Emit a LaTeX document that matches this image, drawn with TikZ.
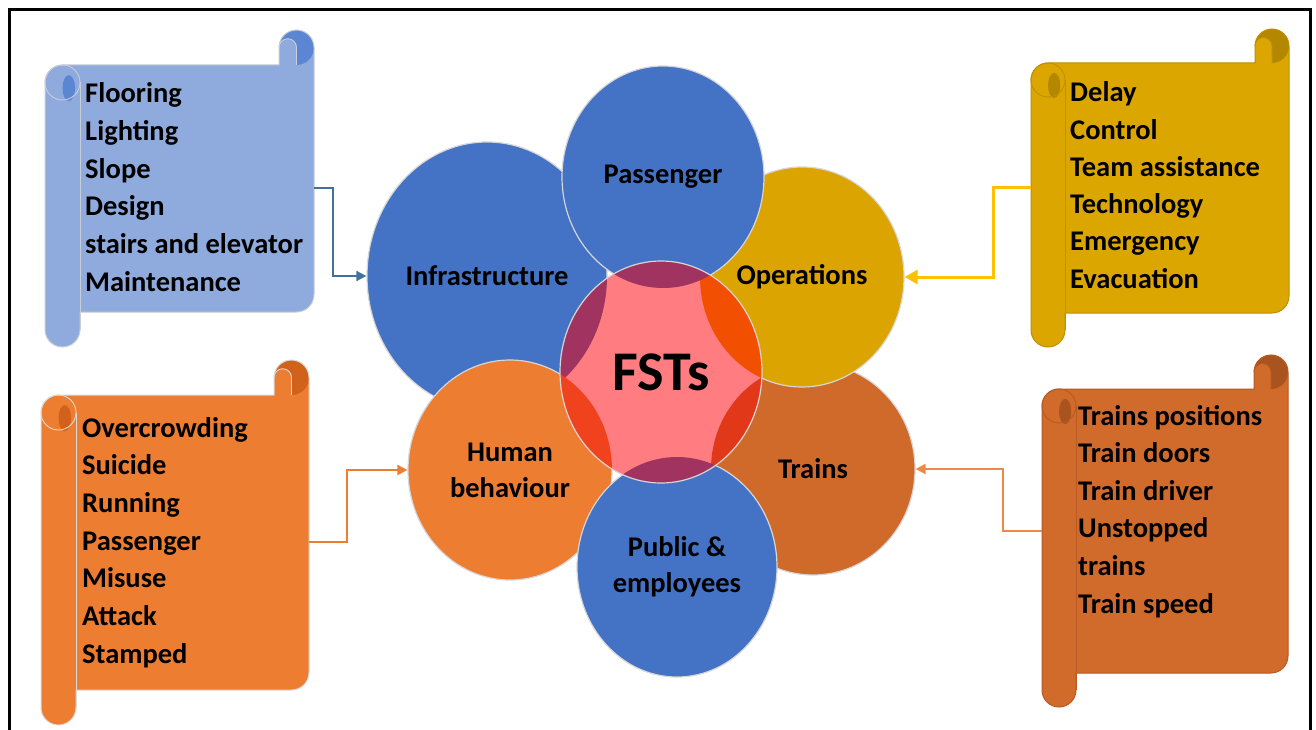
\documentclass[tikz,border=0pt]{standalone}
\usepackage{fontspec}
\setmainfont{Carlito}
\usetikzlibrary{shapes.geometric,arrows.meta,calc}
\definecolor{cblue}{HTML}{4472C4}
\definecolor{cgold}{HTML}{DBA400}
\definecolor{ctrain}{HTML}{CF6A2A}
\definecolor{chuman}{HTML}{ED7D31}
\definecolor{cpink}{HTML}{FF7C80}
\definecolor{circline}{HTML}{D6D6D6}
\definecolor{ovblue}{HTML}{A0335F}
\definecolor{ovgold}{HTML}{F25000}
\definecolor{ovtrain}{HTML}{E2381A}
\definecolor{ovhuman}{HTML}{F1421E}
\definecolor{saL}{HTML}{8FAADC}
\definecolor{saD}{HTML}{5B86D4}
\definecolor{saO}{HTML}{C8CDD6}
\definecolor{sbL}{HTML}{DCA600}
\definecolor{sbD}{HTML}{B38700}
\definecolor{sbO}{HTML}{BF9000}
\definecolor{scL}{HTML}{ED7D31}
\definecolor{scD}{HTML}{D0621B}
\definecolor{scO}{HTML}{D9D9D9}
\definecolor{sdL}{HTML}{D06B2C}
\definecolor{sdD}{HTML}{A9541F}
\definecolor{sdO}{HTML}{B85A22}
\definecolor{lnA}{HTML}{41719C}
\definecolor{lnB}{HTML}{FFC000}
\definecolor{lnC}{HTML}{ED7D31}
\definecolor{lnD}{HTML}{F0884A}
\newcommand{\lblfont}{\fontsize{28.5}{36}\selectfont\bfseries}
\newcommand{\listfont}{\fontsize{28.5}{37.6}\selectfont\bfseries}
% scroll: #1 L, #2 T, #3 R, #4 B, #5 ch, #6 light, #7 dark, #8 outline
\newcommand{\myscroll}[8]{%
  \pgfmathsetmacro{\hh}{#5/2}%
  \def\scrollpath{(#1, {-(#4-\hh)}) arc[start angle=180, end angle=360, radius=\hh*1pt]
    -- ({#1+#5}, {-(#4-#5)}) -- ({#3-\hh}, {-(#4-#5)})
    arc[start angle=270, end angle=360, radius=\hh*1pt]
    -- (#3, {-(#2+\hh)}) arc[start angle=0, end angle=180, radius=\hh*1pt]
    -- ({#3-#5}, {-(#2+#5)}) -- ({#1+\hh}, {-(#2+#5)})
    arc[start angle=90, end angle=180, radius=\hh*1pt] -- cycle}%
  \fill[#6] \scrollpath;
  \fill[#7] ({#3-\hh}, {-(#2+\hh)}) circle[radius=\hh*1pt];
  \fill[#6] ({#3-#5}, {-(#2+\hh)}) arc[start angle=180, end angle=0, radius=\hh*0.5pt]
     -- ({#3-\hh}, {-(#2+#5)}) -- ({#3-#5}, {-(#2+#5)}) -- cycle;
  \fill[#7] ({#1+0.68*#5}, {-(#2+1.66*#5)}) ellipse[x radius=0.18*#5*1pt, y radius=0.37*#5*1pt];
  \draw[#8, line width=1pt] \scrollpath;
  \draw[#8, line width=0.9pt] ({#3-#5}, {-(#2+\hh)}) arc[start angle=180, end angle=0, radius=\hh*0.5pt]
     -- ({#3-\hh}, {-(#2+#5)});
  \draw[#8, line width=0.9pt] ({#1+\hh}, {-(#2+#5+\hh)}) circle[radius=\hh*1pt];
  \draw[#8, line width=0.9pt] ({#1+#5}, {-(#2+#5+\hh)}) -- ({#1+#5}, {-(#4-\hh)});
}
\begin{document}
\begin{tikzpicture}[x=1pt,y=1pt,
  circ/.style={ellipse, draw=circline, line width=1.2pt, inner sep=0pt, text=black, font=\lblfont, align=center},
  listtxt/.style={anchor=base west, inner sep=0pt, font=\listfont, text=black},
  conn/.style={-{Triangle[length=10pt,width=10pt]}}]
\useasboundingbox (0,0) rectangle (1316,-730);
\fill[white] (0,0) rectangle (1316,-730);
\draw[black, line width=3pt] (9,-740) -- (9,-10) -- (1310,-10) -- (1310,-740);

% scrolls
\myscroll{45}{30}{314}{347}{35}{saL}{saD}{saO}
\myscroll{1031}{29}{1289}{347}{34}{sbL}{sbD}{sbO}
\myscroll{41}{360}{309}{725}{35}{scL}{scD}{scO}
\myscroll{1042}{355}{1288}{707}{34}{sdL}{sdD}{sdO}

\foreach \t [count=\i from 0] in {Flooring,Lighting,Slope,Design,stairs and elevator,Maintenance}
  \node[listtxt] (fa\i) at (85,{-103-37.6*\i}) {\t};
\foreach \t [count=\i from 0] in {Delay,Control,Team assistance,Technology,Emergency,Evacuation}
  \node[listtxt] (fb\i) at (1070,{-102-37.2*\i}) {\t};
\foreach \t [count=\i from 0] in {Overcrowding,Suicide,Running,Passenger,Misuse,Attack,Stamped}
  \node[listtxt] (fc\i) at (82,{-437-37.7*\i}) {\t};
\foreach \t [count=\i from 0] in {Trains positions,Train doors,Train driver,Unstopped,trains,Train speed}
  \node[listtxt] (fd\i) at (1078,{-425-37.6*\i}) {\t};

% circles
\node[circ, fill=cblue, minimum width=240pt, minimum height=268pt] (infra) at (487,-276) {Infrastructure};
\node[circ, fill=ctrain, minimum width=204pt, minimum height=212pt] (trains) at (813,-469) {Trains};
\node[circ, fill=cgold, minimum width=204pt, minimum height=220pt] (ops) at (802,-277) {Operations};
\node[circ, fill=cblue, minimum width=202pt, minimum height=222pt] (pass) at (663,-177) {Passenger};
\node[circ, fill=chuman, minimum width=204pt, minimum height=220pt] (human) at (510,-470) {Human\\behaviour};
\node[circ, fill=cblue, minimum width=200pt, minimum height=220pt] (public) at (677,-567) {Public \&\\employees};
\node[circ, fill=cpink, minimum width=202pt, minimum height=222pt,
  font=\fontsize{56}{60}\selectfont\bfseries,
  path picture={
    \fill[ovblue] (infra.center) ellipse[x radius=120pt, y radius=134pt];
    \fill[ovtrain] (trains.center) ellipse[x radius=102pt, y radius=106pt];
    \fill[ovgold] (ops.center) ellipse[x radius=102pt, y radius=110pt];
    \fill[ovblue] (pass.center) ellipse[x radius=101pt, y radius=111pt];
    \fill[ovhuman] (human.center) ellipse[x radius=102pt, y radius=110pt];
    \fill[ovblue] (public.center) ellipse[x radius=100pt, y radius=110pt];
  }] (fst) at (661,-372) {FSTs};

% connectors
\coordinate (sa) at (314,-188);
\coordinate (ba) at (333,-188);
\draw[conn, draw=lnA, line width=1.6pt] (sa) -- (ba) |- (infra.west);
\coordinate (sb) at (1031,-188);
\coordinate (bb) at (993,-188);
\draw[-{Triangle[length=13pt,width=14pt]}, draw=lnB, line width=3pt] (sb) -- (bb) |- (ops.east);
\coordinate (sc) at (309,-542);
\coordinate (bc) at (347,-542);
\draw[conn, draw=lnC, line width=2pt] (sc) -- (bc) |- (human.west);
\coordinate (sd) at (1042,-531);
\coordinate (bd) at (1003,-531);
\draw[conn, draw=lnD, line width=2pt] (sd) -- (bd) |- (trains.east);
\end{tikzpicture}
\end{document}
